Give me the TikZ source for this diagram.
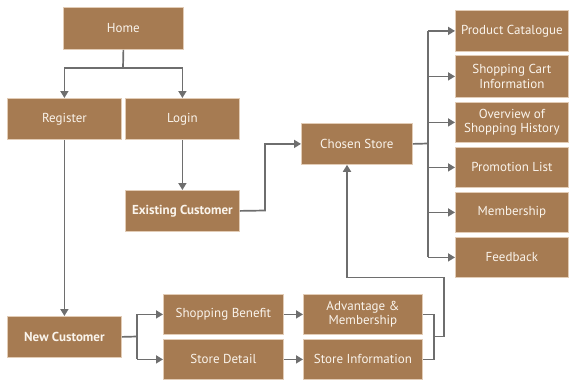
\documentclass[tikz,border=0pt]{standalone}
\usepackage{fontspec}
\setmainfont{PT Sans}
\usetikzlibrary{arrows.meta}
\definecolor{boxfill}{RGB}{166,123,82}
\definecolor{boxedge}{RGB}{226,204,182}
\definecolor{boxtext}{RGB}{250,244,236}
\definecolor{linkgray}{RGB}{110,110,110}
\tikzset{
  pg/.style={draw=boxedge, line width=0.8pt, fill=boxfill, text=boxtext,
    font=\fontsize{13}{14.5}\selectfont, align=center, inner sep=0pt, anchor=north west},
  keypg/.style={pg, font=\fontsize{13}{14.5}\selectfont\bfseries},
  link/.style={draw=linkgray, line width=1.7pt},
  arr/.style={link, -{Triangle[length=7pt,width=8pt]}},
}
\begin{document}
\begin{tikzpicture}[x=1pt,y=-1pt]
\useasboundingbox (0,0) rectangle (569,381);

% page boxes: top-left corner, width, height
\node[pg, minimum width=120pt, minimum height=42pt] (home) at (63,7) {Home};
\node[pg, minimum width=114pt, minimum height=41pt] (register) at (7,98) {Register};
\node[pg, minimum width=114pt, minimum height=41pt] (login) at (125,98) {Login};
\node[keypg, minimum width=114pt, minimum height=41pt] (existing) at (125,190) {Existing Customer};
\node[pg, minimum width=111pt, minimum height=41pt] (store) at (301,123) {Chosen Store};

\node[pg, minimum width=113pt, minimum height=41pt] (catalogue) at (455,10) {Product Catalogue};
\node[pg, minimum width=113pt, minimum height=42pt] (cart) at (455,55) {Shopping Cart\\Information};
\node[pg, minimum width=113pt, minimum height=40pt] (history) at (455,102) {Overview of\\Shopping History};
\node[pg, minimum width=113pt, minimum height=40pt] (promo) at (455,147) {Promotion List};
\node[pg, minimum width=113pt, minimum height=40pt] (member) at (455,192) {Membership};
\node[pg, minimum width=113pt, minimum height=40pt] (feedback) at (455,237) {Feedback};

\node[keypg, minimum width=114pt, minimum height=41pt] (newcust) at (7,316) {New Customer};
\node[pg, minimum width=120pt, minimum height=40pt] (benefit) at (163,294) {Shopping Benefit};
\node[pg, minimum width=120pt, minimum height=40pt] (detail) at (163,339) {Store Detail};
\node[pg, minimum width=119pt, minimum height=40pt] (advantage) at (303,294) {Advantage \&\\Membership};
\node[pg, minimum width=119pt, minimum height=40pt] (info) at (303,339) {Store Information};

% branch points
\coordinate (homesplit) at (123,68);
\coordinate (existbend) at (265,210.5);
\coordinate (storetrunk) at (428,143.5);
\coordinate (newtrunk) at (137,336.5);
\coordinate (joinx) at (434,336.5);
\coordinate (returnx) at (444,277.5);
\coordinate (returnup) at (347,277.5);

% home splits into register and login
\draw[link] (home.south) -- (homesplit);
\draw[arr] (homesplit) -| (register.north);
\draw[arr] (homesplit) -| (login.north);
\draw[arr] (login.south) -- (existing.north);
\draw[arr] (register.south) -- (newcust.north);

% existing customer goes to the chosen store
\draw[arr] (existing.east) -- (existbend) |- (store.west);

% chosen store fans out to its pages
\draw[link] (store.east) -- (storetrunk);
\draw[link] (storetrunk |- catalogue.west) -- (storetrunk |- feedback.west);
\foreach \p in {catalogue,cart,history,promo,member,feedback}
  \draw[arr] (storetrunk |- \p.west) -- (\p.west);

% new customer branch
\draw[link] (newcust.east) -- (newtrunk);
\draw[link] (newtrunk |- benefit.west) -- (newtrunk |- detail.west);
\draw[arr] (newtrunk |- benefit.west) -- (benefit.west);
\draw[arr] (newtrunk |- detail.west) -- (detail.west);
\draw[arr] (benefit.east) -- (advantage.west);
\draw[arr] (detail.east) -- (info.west);

% both results lead back to the chosen store
\draw[link] (advantage.east) -| (joinx |- info.east) -- (info.east);
\draw[arr] (joinx) -| (returnx) -- (returnup) -- (returnup |- store.south);
\end{tikzpicture}
\end{document}
